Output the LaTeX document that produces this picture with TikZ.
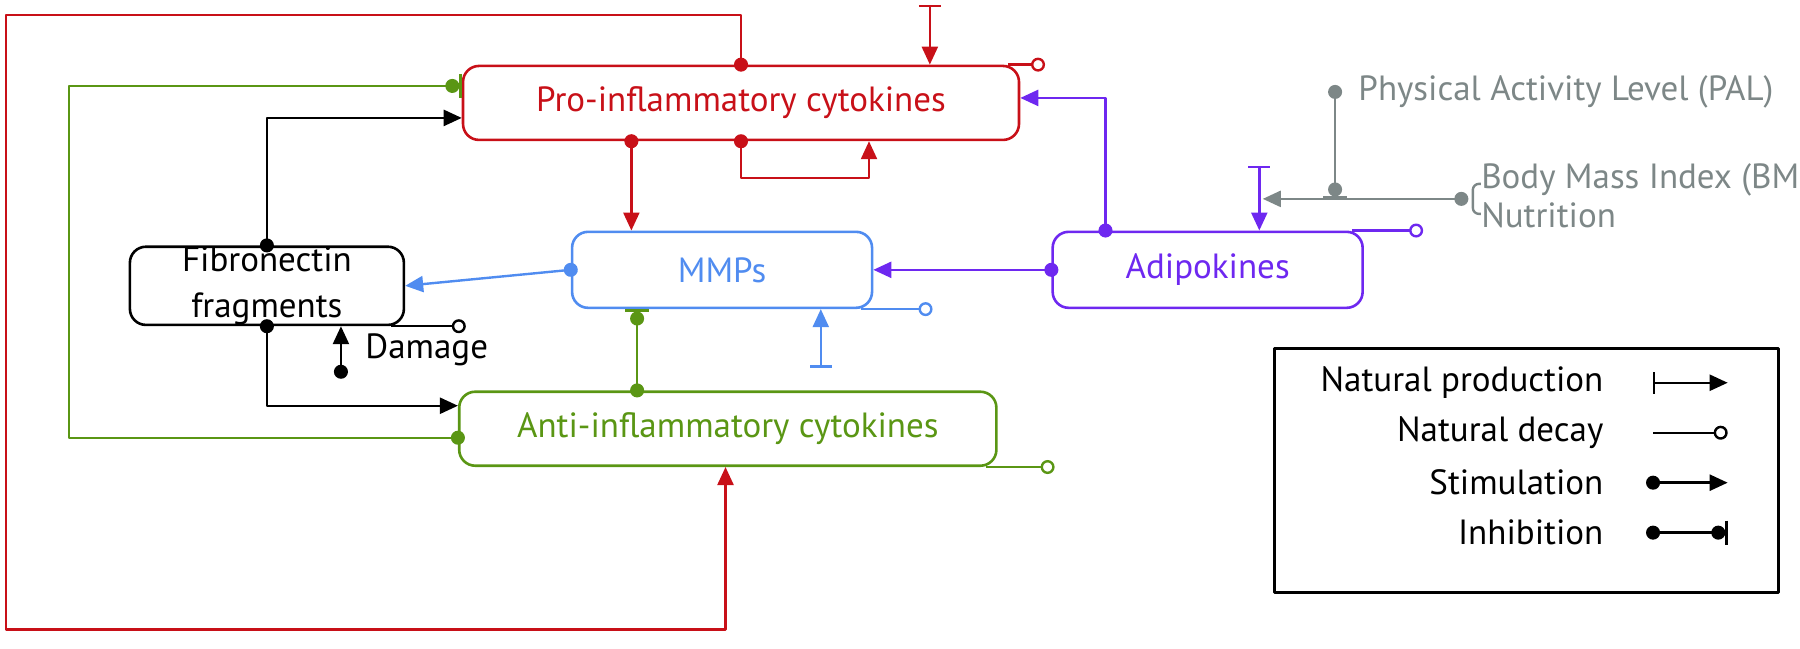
\documentclass[tikz,border=0pt]{standalone}
\usepackage{fontspec}
\setmainfont{PT Sans}
\usetikzlibrary{arrows.meta,positioning}
\definecolor{proRed}{RGB}{200,16,24}
\definecolor{mmpBlue}{RGB}{80,140,240}
\definecolor{adiPurple}{RGB}{110,40,240}
\definecolor{antiGreen}{RGB}{90,150,20}
\definecolor{extGray}{RGB}{125,135,135}

\begin{document}
\begin{tikzpicture}[x=0.574pt,y=-0.4997pt,line join=round,
  box/.style={draw,rounded corners=8pt,line width=1.3pt,align=center,inner sep=0pt,font=\fontsize{17.5}{23}\selectfont},
  txt/.style={font=\fontsize{17.5}{21}\selectfont,inner sep=0pt},
  link/.style={line width=1.2pt},
  stim/.style={link,{Circle[length=7pt]}-{Triangle[length=9pt,width=8pt]},shorten <=-3.5pt},
  prod/.style={link,{Bar[width=11pt]}-{Triangle[length=9pt,width=8pt]}},
  decay/.style={link,-{Circle[open,length=7pt,fill=white]}},
  inhib/.style={link,{Circle[length=7pt]}-{Circle[length=7pt]Bar[width=12pt]},shorten <=-3.5pt}]
\useasboundingbox (0,0) rectangle (1568,649);

% compartments
\node[box,proRed,text=proRed,minimum width=278pt,minimum height=37pt] (pro) at (645.5,103) {Pro-inflammatory cytokines};
\node[box,mmpBlue,text=mmpBlue,minimum width=150pt,minimum height=38pt] (mmp) at (629,270) {MMPs};
\node[box,adiPurple,text=adiPurple,minimum width=155pt,minimum height=38pt] (adi) at (1052,270) {Adipokines};
\node[box,minimum width=137pt,minimum height=36pt] (fib) at (232.5,286) {Fibronectin\\fragments};
\node[box,antiGreen,text=antiGreen,minimum width=268.6pt,minimum height=37pt] (anti) at (634,429) {Anti-inflammatory cytokines};

% outside factors
\node[txt,extGray,anchor=west] (pal) at (1183,92) {Physical Activity Level (PAL)};
\node[txt,extGray,anchor=west] (bmi) at (1290,180) {Body Mass Index (BMI)};
\node[txt,extGray,anchor=west] (nut) at (1290,215) {Nutrition};
\node[txt,anchor=west] (dmgL) at (318,350) {Damage};

% helper points
\coordinate (loopR) at (632,630);
\coordinate (proIn) at (810,5);
\coordinate (gL) at (60,86);
\coordinate (gD) at (60,438);
\coordinate (bU) at (230,118);
\coordinate (bD) at (230,406);
\coordinate (dmg) at (297,372);
\coordinate (rM) at (550,0);
\coordinate (selfR) at (757,178);
\coordinate (mmpIn) at (715,368);
\coordinate (gM) at (555,0);
\coordinate (pU) at (963,98);
\coordinate (adiIn) at (1097,166);
\coordinate (palD) at (1163,92);
\coordinate (mod) at (1163,199);
\coordinate (brk) at (1273,199);
\coordinate (gT) at (1100,199);

% pro-inflammatory
\draw[stim,proRed] (pro.north) |- (5,15) |- (loopR) -- (loopR |- anti.south);
\draw[prod,proRed] (proIn) -- (proIn |- pro.north);
\draw[decay,proRed] ([xshift=-6pt]pro.north east) -- ++(32,0);
\draw[stim,proRed] (pro.south -| rM) -- (mmp.north -| rM);
\draw[stim,proRed] (pro.south) |- (selfR) -- (selfR |- pro.south);

% anti-inflammatory
\draw[inhib,antiGreen] (gD -| anti.west) -| (gL) -- (gL -| pro.west);
\draw[inhib,antiGreen] (anti.north -| gM) -- (mmp.south -| gM);
\draw[decay,antiGreen] ([xshift=-6pt]anti.south east) -- ++(60,0);

% fibronectin fragments
\draw[stim] (fib.north) |- (bU -| pro.west);
\draw[stim] (fib.south) |- (bD -| anti.west);
\draw[stim] (dmg) -- (dmg |- fib.south);
\draw[decay] ([xshift=-7pt]fib.south east) -- ++(65,0);

% MMPs
\draw[stim,mmpBlue] (mmp.west) -- (fib.east);
\draw[decay,mmpBlue] ([xshift=-6pt]mmp.south east) -- ++(62,0);
\draw[prod,mmpBlue] (mmpIn) -- (mmpIn |- mmp.south);

% adipokines
\draw[stim,adiPurple] (adi.west) -- (mmp.east);
\draw[stim,adiPurple] (adi.north -| pU) -- (pU) -- (pU -| pro.east);
\draw[prod,adiPurple] (adiIn) -- (adiIn |- adi.north);
\draw[decay,adiPurple] ([xshift=-6pt]adi.north east) -- ++(62,0);

% lifestyle
\draw[inhib,extGray] (palD) -- (mod);
\draw[stim,extGray] (brk) -- (gT);
\draw[link,extGray,rounded corners=3pt] (1290,184) -| (1283,214) -- (1290,214);

% legend
\draw[line width=1.3pt] (1110,349) rectangle (1549,593);
\node[txt,anchor=east] (lgP) at (1397,383) {Natural production};
\node[txt,anchor=east] (lgD) at (1397,433) {Natural decay};
\node[txt,anchor=east] (lgS) at (1397,483) {Stimulation};
\node[txt,anchor=east] (lgI) at (1397,533) {Inhibition};
\draw[prod] (1440,383) -- (1505,383);
\draw[decay] (1440,433) -- (1505,433);
\draw[stim] (1440,483) -- (1505,483);
\draw[inhib] (1440,533) -- (1505,533);
\end{tikzpicture}
\end{document}
